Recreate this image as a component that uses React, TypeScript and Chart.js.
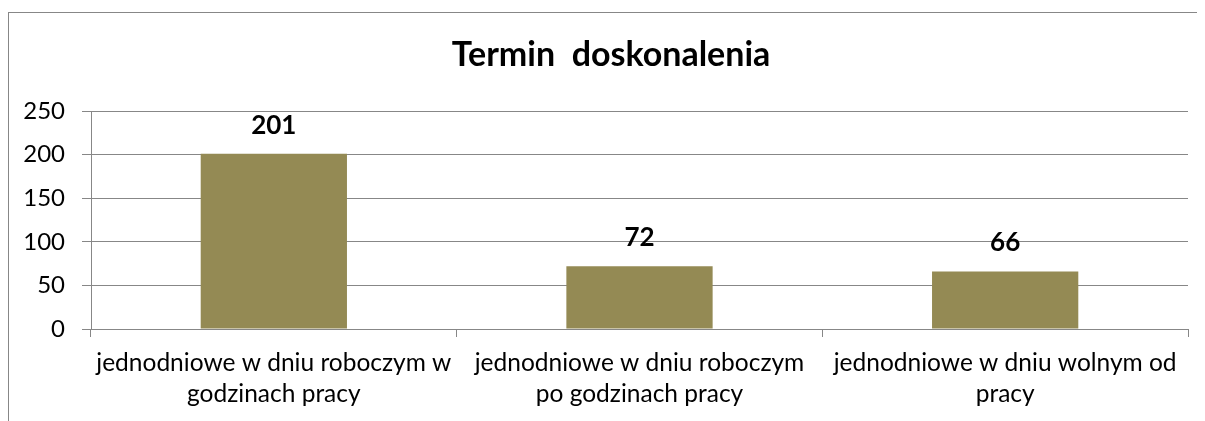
import React, { useEffect, useRef } from "react";
import { Chart, registerables } from "chart.js";

Chart.register(...registerables);

const categories: string[][] = [
  ["jednodniowe w dniu roboczym w", "godzinach pracy"],
  ["jednodniowe w dniu roboczym", "po godzinach pracy"],
  ["jednodniowe w dniu wolnym od", "pracy"],
];
const values: number[] = [201, 72, 66];
const yTicks: number[] = [0, 50, 100, 150, 200, 250];
const titleText = "Termin  doskonalenia";

const FONT = "Lato";
const GRID = "#878787";
const BAR = "#948A54";

const W = 1204;
const H = 430;

const labelPlugin = {
  id: "barLabels",
  afterDatasetsDraw(chart: any) {
    const ctx = chart.ctx;
    const meta = chart.getDatasetMeta(0);
    ctx.save();
    ctx.font = `bold 26px ${FONT}`;
    ctx.fillStyle = "#000";
    ctx.textAlign = "center";
    ctx.textBaseline = "alphabetic";
    meta.data.forEach((el: any, i: number) => {
      ctx.fillText(String(values[i]), el.x, el.y - 20);
    });
    ctx.restore();
  },
};

export default function App() {
  const ref = useRef<HTMLCanvasElement | null>(null);
  useEffect(() => {
    document.documentElement.style.overflow = "hidden";
    document.body.style.overflow = "hidden";
    if (!ref.current) return;
    const chart = new Chart(ref.current, {
      type: "bar",
      data: {
        labels: categories,
        datasets: [
          {
            data: values,
            backgroundColor: BAR,
            borderWidth: 0,
            barPercentage: 0.4,
            categoryPercentage: 1,
          },
        ],
      },
      options: {
        animation: false,
        responsive: false,
        maintainAspectRatio: false,
        layout: { padding: { left: 0, right: 0, top: 0, bottom: 0 } },
        plugins: {
          legend: { display: false },
          tooltip: { enabled: false },
          title: {
            display: true,
            text: titleText,
            color: "#000",
            font: { family: FONT, size: 34, weight: "bold", lineHeight: 1.2 },
            padding: { top: 21.5, bottom: 35.7 },
          },
        },
        scales: {
          x: {
            grid: {
              display: true,
              drawOnChartArea: false,
              drawTicks: true,
              tickLength: 8,
              offset: true,
              color: GRID,
            },
            border: { display: true, color: GRID },
            ticks: {
              color: "#000",
              font: { family: FONT, size: 24.5, lineHeight: 1.25 },
              autoSkip: false,
              maxRotation: 0,
              minRotation: 0,
              padding: 11,
            },
            afterFit: (s: any) => {
              s.height = H - 316;
            },
          },
          y: {
            min: 0,
            max: 250,
            afterBuildTicks: (s: any) => {
              s.ticks = yTicks.map((v) => ({ value: v }));
            },
            grid: { color: GRID, tickLength: 9, drawTicks: true },
            border: { display: true, color: GRID },
            ticks: {
              color: "#000",
              font: { family: FONT, size: 24 },
              padding: 17,
            },
            afterFit: (s: any) => {
              s.width = 82;
            },
          },
          y2: {
            position: "right",
            display: true,
            grid: { display: false, drawTicks: false },
            border: { display: false },
            ticks: { display: false },
            afterFit: (s: any) => {
              s.width = W - 1179;
            },
          },
        },
      },
      plugins: [labelPlugin],
    } as any);
    return () => chart.destroy();
  }, []);

  return (
    <div style={{ marginTop: 4, width: 1197, height: 409, overflow: "hidden" }}>
      <div style={{ border: `1px solid ${GRID}`, width: W, height: H }}>
        <canvas ref={ref} width={W} height={H} style={{ display: "block", width: W, height: H }} />
      </div>
    </div>
  );
}
